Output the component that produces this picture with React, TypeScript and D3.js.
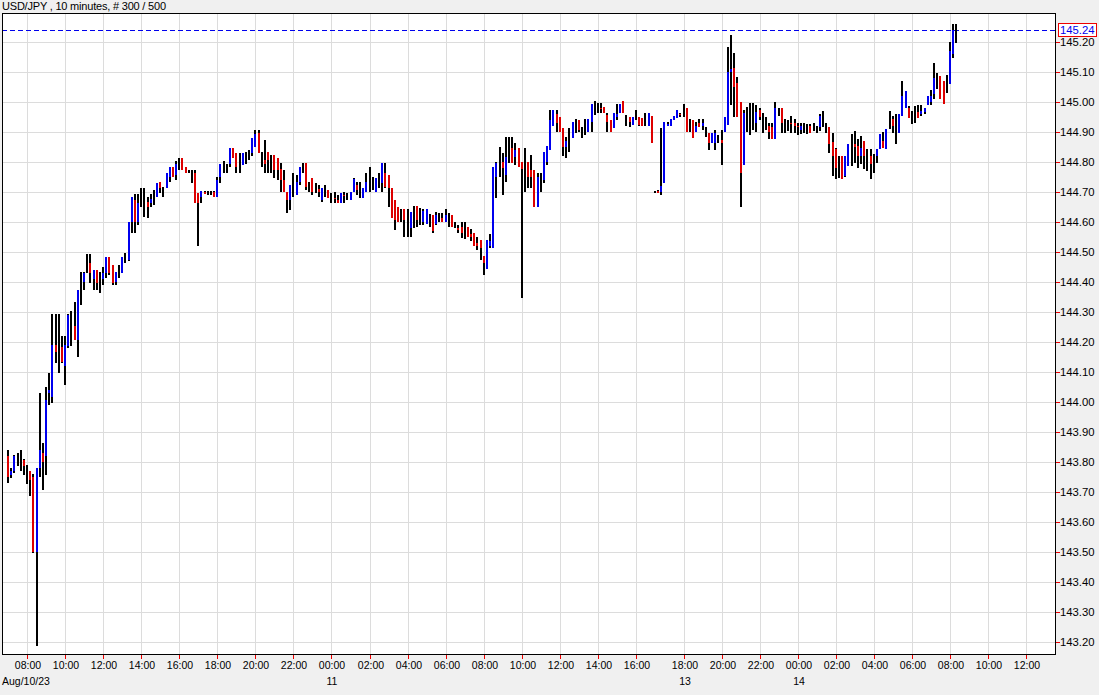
import React from "react";
import * as d3 from "d3";

// [open, high, low, close] per 10-minute bar
const ohlc: [number, number, number, number][] = [
  [143.82, 143.84, 143.73, 143.75], [143.755, 143.78, 143.745, 143.77], [143.77, 143.825, 143.765, 143.82], [143.81, 143.83, 143.785, 143.81],
  [143.80, 143.84, 143.77, 143.80], [143.807, 143.81, 143.755, 143.787], [143.78, 143.79, 143.727, 143.78], [143.77, 143.77, 143.687, 143.74],
  [143.75, 143.76, 143.495, 143.50], [143.50, 143.78, 143.187, 143.78], [143.78, 144.03, 143.75, 143.84], [143.83, 143.863, 143.707, 143.80],
  [143.82, 144.05, 143.757, 144.007], [144.03, 144.096, 143.99, 144.04], [144.018, 144.293, 143.996, 144.19], [144.19, 144.293, 144.129, 144.168],
  [144.17, 144.293, 144.098, 144.17], [144.184, 144.22, 144.129, 144.134], [144.12, 144.22, 144.057, 144.19], [144.185, 144.293, 144.18, 144.29],
  [144.26, 144.304, 144.187, 144.26], [144.253, 144.332, 144.207, 144.207], [144.207, 144.373, 144.149, 144.373], [144.38, 144.432, 144.323, 144.38],
  [144.40, 144.434, 144.373, 144.43], [144.45, 144.492, 144.429, 144.45], [144.462, 144.492, 144.396, 144.429], [144.41, 144.44, 144.373, 144.44],
  [144.44, 144.44, 144.373, 144.395], [144.40, 144.434, 144.362, 144.40], [144.41, 144.45, 144.39, 144.43], [144.429, 144.484, 144.412, 144.484],
  [144.484, 144.484, 144.423, 144.429], [144.457, 144.457, 144.39, 144.396], [144.40, 144.434, 144.39, 144.434], [144.43, 144.457, 144.412, 144.43],
  [144.43, 144.484, 144.429, 144.484], [144.47, 144.496, 144.462, 144.47], [144.473, 144.601, 144.47, 144.601], [144.601, 144.684, 144.562, 144.684],
  [144.673, 144.692, 144.562, 144.601], [144.601, 144.692, 144.59, 144.662], [144.68, 144.712, 144.651, 144.68], [144.67, 144.712, 144.618, 144.67],
  [144.667, 144.684, 144.612, 144.651], [144.662, 144.692, 144.651, 144.678], [144.68, 144.706, 144.656, 144.68], [144.684, 144.731, 144.684, 144.731],
  [144.734, 144.734, 144.695, 144.712], [144.70, 144.718, 144.684, 144.70], [144.712, 144.762, 144.712, 144.762], [144.751, 144.784, 144.734, 144.784],
  [144.784, 144.784, 144.751, 144.751], [144.756, 144.803, 144.74, 144.795], [144.80, 144.812, 144.773, 144.80], [144.812, 144.812, 144.773, 144.773],
  [144.784, 144.784, 144.762, 144.762], [144.768, 144.773, 144.762, 144.768], [144.768, 144.773, 144.729, 144.768], [144.762, 144.773, 144.662, 144.662],
  [144.695, 144.695, 144.52, 144.662], [144.684, 144.703, 144.662, 144.703], [144.701, 144.703, 144.692, 144.692], [144.697, 144.703, 144.69, 144.697],
  [144.697, 144.703, 144.69, 144.697], [144.701, 144.703, 144.682, 144.682], [144.684, 144.751, 144.682, 144.74], [144.751, 144.795, 144.731, 144.795],
  [144.79, 144.804, 144.762, 144.79], [144.78, 144.795, 144.762, 144.78], [144.795, 144.845, 144.784, 144.845], [144.845, 144.845, 144.812, 144.812],
  [144.829, 144.829, 144.762, 144.784], [144.80, 144.829, 144.762, 144.80], [144.79, 144.829, 144.79, 144.829], [144.82, 144.834, 144.795, 144.82],
  [144.82, 144.84, 144.806, 144.82], [144.83, 144.88, 144.82, 144.88], [144.85, 144.905, 144.85, 144.893], [144.895, 144.905, 144.83, 144.83],
  [144.82, 144.834, 144.784, 144.82], [144.806, 144.873, 144.762, 144.795], [144.834, 144.834, 144.762, 144.806], [144.79, 144.823, 144.762, 144.79],
  [144.823, 144.823, 144.745, 144.773], [144.812, 144.812, 144.74, 144.773], [144.776, 144.796, 144.701, 144.74], [144.74, 144.773, 144.701, 144.701],
  [144.701, 144.701, 144.631, 144.673], [144.673, 144.723, 144.64, 144.723], [144.72, 144.762, 144.684, 144.72], [144.69, 144.757, 144.69, 144.734],
  [144.734, 144.784, 144.723, 144.784], [144.78, 144.796, 144.762, 144.78], [144.796, 144.796, 144.707, 144.718], [144.72, 144.734, 144.701, 144.72],
  [144.746, 144.746, 144.69, 144.701], [144.71, 144.729, 144.696, 144.71], [144.71, 144.723, 144.684, 144.70], [144.673, 144.712, 144.668, 144.712],
  [144.70, 144.723, 144.684, 144.70], [144.707, 144.707, 144.679, 144.679], [144.68, 144.696, 144.662, 144.68], [144.68, 144.701, 144.662, 144.675],
  [144.673, 144.69, 144.662, 144.662], [144.664, 144.696, 144.664, 144.696], [144.69, 144.701, 144.662, 144.685], [144.69, 144.696, 144.673, 144.69],
  [144.673, 144.701, 144.673, 144.701], [144.70, 144.746, 144.701, 144.743], [144.723, 144.734, 144.69, 144.707], [144.71, 144.734, 144.679, 144.71],
  [144.679, 144.712, 144.679, 144.712], [144.701, 144.762, 144.701, 144.734], [144.74, 144.784, 144.701, 144.74], [144.73, 144.751, 144.707, 144.73],
  [144.701, 144.746, 144.701, 144.746], [144.74, 144.762, 144.712, 144.74], [144.729, 144.796, 144.701, 144.796], [144.762, 144.796, 144.712, 144.718],
  [144.757, 144.757, 144.651, 144.712], [144.712, 144.712, 144.612, 144.612], [144.673, 144.673, 144.573, 144.607], [144.651, 144.651, 144.601, 144.601],
  [144.63, 144.642, 144.601, 144.63], [144.642, 144.642, 144.551, 144.607], [144.60, 144.642, 144.551, 144.60], [144.579, 144.634, 144.551, 144.634],
  [144.62, 144.653, 144.579, 144.62], [144.653, 144.653, 144.584, 144.607], [144.61, 144.648, 144.59, 144.61], [144.60, 144.642, 144.59, 144.635],
  [144.592, 144.642, 144.592, 144.642], [144.62, 144.627, 144.584, 144.62], [144.623, 144.623, 144.562, 144.571], [144.594, 144.634, 144.59, 144.623],
  [144.61, 144.629, 144.601, 144.61], [144.614, 144.629, 144.601, 144.601], [144.601, 144.642, 144.601, 144.623], [144.60, 144.629, 144.584, 144.60],
  [144.623, 144.623, 144.584, 144.584], [144.59, 144.601, 144.579, 144.59], [144.58, 144.59, 144.562, 144.575], [144.582, 144.601, 144.546, 144.562],
  [144.57, 144.601, 144.543, 144.57], [144.582, 144.582, 144.551, 144.551], [144.56, 144.576, 144.538, 144.55], [144.562, 144.562, 144.52, 144.52],
  [144.53, 144.551, 144.507, 144.52], [144.54, 144.54, 144.473, 144.512], [144.487, 144.487, 144.422, 144.462], [144.442, 144.54, 144.442, 144.54],
  [144.52, 144.56, 144.512, 144.538], [144.512, 144.784, 144.512, 144.784], [144.751, 144.801, 144.679, 144.796], [144.80, 144.851, 144.751, 144.80],
  [144.80, 144.829, 144.69, 144.78], [144.757, 144.884, 144.734, 144.818], [144.85, 144.884, 144.796, 144.85], [144.846, 144.884, 144.796, 144.796],
  [144.818, 144.862, 144.79, 144.84], [144.846, 144.846, 144.784, 144.784], [144.80, 144.80, 144.347, 144.778], [144.76, 144.845, 144.701, 144.76],
  [144.801, 144.801, 144.712, 144.751], [144.773, 144.823, 144.712, 144.751], [144.773, 144.773, 144.651, 144.651], [144.651, 144.762, 144.651, 144.751],
  [144.73, 144.762, 144.701, 144.73], [144.74, 144.834, 144.73, 144.834], [144.80, 144.853, 144.79, 144.853], [144.84, 144.973, 144.84, 144.94],
  [144.92, 144.973, 144.92, 144.973], [144.96, 144.973, 144.901, 144.93], [144.951, 144.951, 144.901, 144.901], [144.912, 144.912, 144.82, 144.851],
  [144.85, 144.884, 144.812, 144.87], [144.88, 144.912, 144.834, 144.88], [144.879, 144.934, 144.879, 144.934], [144.92, 144.943, 144.896, 144.92],
  [144.94, 144.94, 144.901, 144.907], [144.90, 144.918, 144.879, 144.90], [144.91, 144.943, 144.89, 144.91], [144.901, 144.943, 144.901, 144.943],
  [144.934, 144.993, 144.901, 144.993], [144.98, 145.003, 144.957, 144.98], [144.98, 144.996, 144.962, 144.98], [144.98, 144.996, 144.962, 144.975],
  [144.982, 144.982, 144.962, 144.962], [144.957, 144.962, 144.901, 144.934], [144.94, 144.94, 144.901, 144.901], [144.912, 144.962, 144.912, 144.962],
  [144.95, 144.993, 144.94, 144.96], [144.962, 144.993, 144.962, 144.993], [145.003, 145.003, 144.962, 144.962], [144.94, 144.957, 144.92, 144.94],
  [144.951, 144.951, 144.918, 144.934], [144.923, 144.951, 144.923, 144.951], [144.95, 144.973, 144.94, 144.95], [144.951, 144.951, 144.92, 144.923],
  [144.946, 144.946, 144.92, 144.92], [144.93, 144.962, 144.92, 144.93], [144.92, 144.962, 144.92, 144.962], [144.953, 144.953, 144.862, 144.862],
  [144.70, 144.703, 144.697, 144.70], [144.702, 144.705, 144.695, 144.698], [144.70, 144.912, 144.69, 144.72], [144.73, 144.934, 144.73, 144.934],
  [144.92, 144.934, 144.92, 144.925], [144.92, 144.943, 144.92, 144.943], [144.94, 144.953, 144.94, 144.953], [144.946, 144.973, 144.946, 144.973],
  [144.96, 144.962, 144.951, 144.957], [144.96, 144.993, 144.951, 144.96], [144.979, 144.979, 144.901, 144.901], [144.92, 144.943, 144.901, 144.92],
  [144.94, 144.94, 144.879, 144.879], [144.90, 144.934, 144.901, 144.92], [144.929, 144.943, 144.918, 144.918], [144.92, 144.943, 144.907, 144.93],
  [144.90, 144.918, 144.884, 144.90], [144.896, 144.896, 144.84, 144.862], [144.862, 144.896, 144.862, 144.896], [144.862, 144.907, 144.84, 144.896],
  [144.88, 144.89, 144.862, 144.88], [144.873, 144.907, 144.79, 144.862], [144.901, 144.951, 144.901, 144.951], [144.923, 145.184, 144.923, 145.101],
  [145.10, 145.223, 144.99, 145.11], [145.112, 145.162, 144.951, 145.051], [145.062, 145.084, 144.951, 144.951], [145.001, 145.001, 144.651, 144.762],
  [144.79, 144.973, 144.79, 144.962], [144.95, 144.982, 144.901, 144.95], [144.95, 144.996, 144.89, 144.95], [144.96, 144.996, 144.907, 144.96],
  [144.929, 144.99, 144.901, 144.968], [144.973, 144.979, 144.94, 144.951], [144.94, 144.962, 144.896, 144.94], [144.93, 144.951, 144.907, 144.93],
  [144.92, 144.931, 144.878, 144.90], [144.915, 144.931, 144.878, 144.878], [144.878, 145.0, 144.878, 144.981], [144.97, 144.981, 144.954, 144.97],
  [144.981, 144.981, 144.898, 144.931], [144.91, 144.943, 144.898, 144.91], [144.92, 144.94, 144.904, 144.92], [144.93, 144.954, 144.898, 144.925],
  [144.93, 144.943, 144.898, 144.92], [144.92, 144.931, 144.889, 144.915], [144.905, 144.931, 144.892, 144.92], [144.91, 144.931, 144.898, 144.91],
  [144.91, 144.926, 144.892, 144.91], [144.92, 144.926, 144.898, 144.898], [144.915, 144.931, 144.904, 144.915], [144.91, 144.92, 144.898, 144.91],
  [144.915, 144.959, 144.904, 144.954], [144.94, 144.97, 144.915, 144.94], [144.92, 144.931, 144.898, 144.92], [144.915, 144.915, 144.83, 144.859],
  [144.865, 144.898, 144.754, 144.82], [144.843, 144.848, 144.743, 144.78], [144.79, 144.82, 144.748, 144.79], [144.82, 144.82, 144.743, 144.743],
  [144.754, 144.82, 144.75, 144.82], [144.787, 144.859, 144.787, 144.859], [144.85, 144.892, 144.787, 144.85], [144.86, 144.904, 144.798, 144.85],
  [144.854, 144.876, 144.781, 144.82], [144.82, 144.887, 144.792, 144.848], [144.87, 144.87, 144.776, 144.82], [144.81, 144.843, 144.77, 144.81],
  [144.82, 144.843, 144.743, 144.795], [144.80, 144.826, 144.765, 144.80], [144.82, 144.843, 144.798, 144.843], [144.843, 144.892, 144.843, 144.892],
  [144.87, 144.90, 144.848, 144.848], [144.843, 144.909, 144.843, 144.909], [144.93, 144.97, 144.909, 144.93], [144.943, 144.954, 144.898, 144.92],
  [144.90, 144.959, 144.859, 144.90], [144.898, 144.959, 144.895, 144.959], [144.954, 145.07, 144.954, 145.02], [144.981, 145.037, 144.981, 145.037],
  [144.981, 144.987, 144.948, 144.948], [144.95, 144.97, 144.926, 144.95], [144.95, 144.987, 144.931, 144.95], [144.965, 144.989, 144.948, 144.948],
  [144.96, 144.989, 144.954, 144.97], [144.965, 144.981, 144.959, 144.981], [144.989, 145.02, 144.989, 145.02], [145.0, 145.04, 144.989, 145.02],
  [145.026, 145.131, 145.009, 145.081], [145.07, 145.098, 145.043, 145.07], [145.087, 145.087, 145.009, 145.009], [145.07, 145.07, 144.993, 144.993],
  [145.06, 145.089, 145.031, 145.06], [145.059, 145.20, 145.059, 145.17], [145.16, 145.259, 145.148, 145.24], [145.24, 145.259, 145.198, 145.24],
];

const xTickIndex = [6, 18, 30, 42, 54, 66, 78, 90, 102, 114, 126, 138, 150, 162, 174, 186, 198, 213, 225, 237, 249, 261, 273, 285, 297, 309, 321];
const xTickLabels = ["08:00", "10:00", "12:00", "14:00", "16:00", "18:00", "20:00", "22:00", "00:00", "02:00", "04:00", "06:00", "08:00", "10:00", "12:00", "14:00", "16:00", "18:00", "20:00", "22:00", "00:00", "02:00", "04:00", "06:00", "08:00", "10:00", "12:00"];
const dayIndex = [102, 213, 249];
const dayLabels = ["11", "13", "14"];
const firstDate = "Aug/10/23";
const yTicks = [143.2, 143.3, 143.4, 143.5, 143.6, 143.7, 143.8, 143.9, 144.0, 144.1, 144.2, 144.3, 144.4, 144.5, 144.6, 144.7, 144.8, 144.9, 145.0, 145.1, 145.2];
const lastPrice = 145.24;
const title = "USD/JPY , 10 minutes, # 300 / 500";

const W = 1099, H = 695;
const L = 2, T = 13, R = 1056, B = 655;
const FONT = "'Liberation Sans', Arial, sans-serif";

export default function App() {
  const x = d3.scaleLinear().domain([0, 300]).range([8, 8 + 300 * 3.1714]);
  const y = d3.scaleLinear().domain([143.2, 145.2]).range([642, 42]);
  const up = "#0000ee";
  const dn = "#dd0000";
  const yLast = Math.round(y(lastPrice));

  return (
    <div style={{ position: "absolute", left: 0, top: 0 }}>
      <svg width={W} height={H} style={{ display: "block", background: "#f0f0f0" }} fontFamily={FONT}>
        <rect x={L} y={T} width={R - L} height={B - T} fill="#ffffff" />
        {yTicks.map((v, k) => (
          <line key={"gy" + k} x1={L} x2={R} y1={Math.round(y(v)) + 0.5} y2={Math.round(y(v)) + 0.5} stroke="#dcdcdc" strokeWidth={1} />
        ))}
        {xTickIndex.map((i, k) => (
          <line key={"gx" + k} x1={Math.round(x(i)) + 0.5} x2={Math.round(x(i)) + 0.5} y1={T} y2={B} stroke="#dcdcdc" strokeWidth={1} />
        ))}
        <line x1={L} x2={R} y1={yLast + 0.5} y2={yLast + 0.5} stroke="#0000ee" strokeWidth={1} strokeDasharray="5,3" />
        {ohlc.map((b, i) => {
          const [o, h, l, c] = b;
          const cx = Math.round(x(i)) - 1;
          const yh = Math.round(y(h));
          const yl = Math.round(y(l));
          const yo = Math.round(y(o));
          const yc = Math.round(y(c));
          const bodyTop = Math.min(yo, yc);
          const bodyH = Math.abs(yo - yc);
          return (
            <g key={"b" + i}>
              <rect x={cx} y={yh} width={2} height={Math.max(1, yl - yh)} fill="#000000" />
              {bodyH > 0 && (
                <rect x={cx} y={bodyTop} width={2} height={bodyH} fill={c > o ? up : dn} />
              )}
            </g>
          );
        })}
        <rect x={L + 0.5} y={T + 0.5} width={R - L - 1} height={B - T - 1} fill="none" stroke="#000000" strokeWidth={1} />
        {yTicks.map((v, k) => (
          <g key={"yt" + k}>
            <line x1={R} x2={R + 4} y1={Math.round(y(v)) + 0.5} y2={Math.round(y(v)) + 0.5} stroke="#ee0000" />
            <text x={R + 4} y={Math.round(y(v)) + 4} fontSize={11.3} fill="#000">{v.toFixed(2)}</text>
          </g>
        ))}
        {xTickIndex.map((i, k) => (
          <g key={"xt" + k}>
            <line x1={Math.round(x(i)) + 0.5} x2={Math.round(x(i)) + 0.5} y1={B} y2={B + 4} stroke="#ee0000" />
            <text x={Math.round(x(i)) + 1} y={B + 14} fontSize={10.5} textAnchor="middle" fill="#000">{xTickLabels[k]}</text>
          </g>
        ))}
        {dayIndex.map((i, k) => (
          <text key={"d" + k} x={Math.round(x(i)) + 1} y={B + 30} fontSize={10.5} textAnchor="middle" fill="#000">{dayLabels[k]}</text>
        ))}
        <text x={2} y={B + 30} fontSize={10.5} fill="#000">{firstDate}</text>
        <text x={2} y={9.5} fontSize={11} letterSpacing={-0.2} fill="#000">{title}</text>
        <rect x={R + 2.5} y={yLast - 6.5} width={38} height={13} fill="#ffffff" stroke="#ee0000" strokeWidth={1} />
        <text x={R + 4} y={yLast + 4} fontSize={11.3} fill="#0000ee">{lastPrice.toFixed(2)}</text>
      </svg>
    </div>
  );
}
